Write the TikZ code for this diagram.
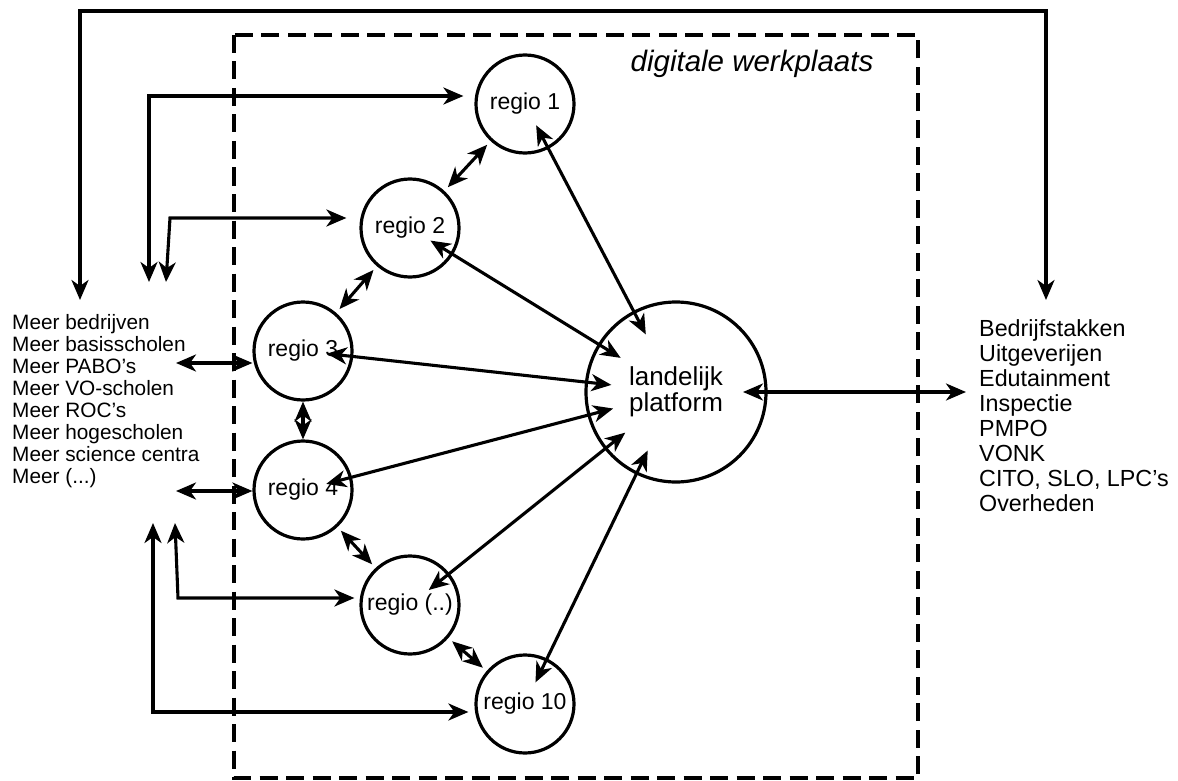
\documentclass[tikz,border=0pt]{standalone}
\usepackage{fontspec}
\setmainfont{Liberation Sans}
\usetikzlibrary{arrows.meta,calc}

\begin{document}
\begin{tikzpicture}[x=1pt,y=-1pt]
\tikzstyle{regio}=[circle,draw,line width=3.2pt,minimum size=98pt,inner sep=0pt,font=\fontsize{23}{25}\selectfont]
\tikzstyle{dbl}=[line width=3.1pt,<->,>={Stealth[length=20pt,width=17pt,inset=6pt]}]
\tikzstyle{lijst}=[anchor=north west,inner sep=0pt,align=left]
\useasboundingbox (0,0) rectangle (1178,781);
\draw[line width=4pt,dash pattern=on 18pt off 8.5pt] (234,35) rectangle (918,778);
\node[font=\itshape\fontsize{29.5}{31}\selectfont,anchor=base] (titel) at (752,72) {digitale werkplaats};
\foreach \name/\point/\txt in {
	r1/{525,104}/regio 1,
	r2/{410,228}/regio 2,
	r3/{303,351}/regio 3,
	r4/{303,490}/regio 4,
	rx/{410,605}/regio (..),
	r10/{525,704}/regio 10}
	\node[regio] (\name) at (\point) {\txt};
\node[circle,draw,line width=3.2pt,minimum size=180pt,inner sep=0pt,align=center,font=\fontsize{26}{26}\selectfont] (platform) at (676,392) {landelijk\\platform};
\node[lijst,font=\fontsize{20.8}{22}\selectfont] (meer) at (12,314) {Meer bedrijven\\Meer basisscholen\\Meer PABO’s\\Meer VO-scholen\\Meer ROC’s\\Meer hogescholen\\Meer science centra\\Meer (...)};
\node[lijst,font=\fontsize{23.3}{25}\selectfont] (partners) at (979,319) {Bedrijfstakken\\Uitgeverijen\\Edutainment\\Inspectie\\PMPO\\VONK\\CITO, SLO, LPC’s\\Overheden};
\coordinate (topL) at (80,300);
\coordinate (topR) at (1046,300);
\coordinate (in1) at (149,282);
\coordinate (in2) at (166,282);
\coordinate (in3) at (176,363);
\coordinate (in4) at (176,491);
\coordinate (uitx) at (175,523);
\coordinate (uit10) at (153,523);
\coordinate (ext) at (966,392);
\draw[dbl] (topL) -- ++(0,-289) -| (topR);
\draw[dbl,shorten >=11pt] (in1) |- ([yshift=8pt]r1.west);
\draw[dbl,shorten >=13pt] (in2) -- ++(4,-64) -- ([yshift=10pt]r2.west);
\draw[dbl] (in3) -- ([yshift=-12pt]r3.west);
\draw[dbl] (in4) -- (in4 -| r4.west);
\draw[dbl,shorten >=5pt] (uitx) -- ++(3,75) -- ([yshift=7pt]rx.west);
\draw[dbl,shorten >=6pt] (uit10) |- ([yshift=-8pt]r10.west);
\draw[dbl,shorten <=5pt,shorten >=5pt] (r1) -- (r2);
\draw[dbl,shorten <=5pt,shorten >=5pt] (r2) -- (r3);
\draw[dbl] (r3) -- (r4);
\draw[dbl,shorten <=5pt,shorten >=5pt] (r4) -- (rx);
\draw[dbl,shorten <=5pt,shorten >=5pt] (rx) -- (r10);
\foreach \name in {r1,r2,r3,r4,rx,r10}
	\draw[dbl,shorten <=24pt,shorten >=65pt] (\name.center) -- (platform.center);
\draw[dbl,shorten <=67pt] (platform.center) -- (ext);
\end{tikzpicture}
\end{document}
